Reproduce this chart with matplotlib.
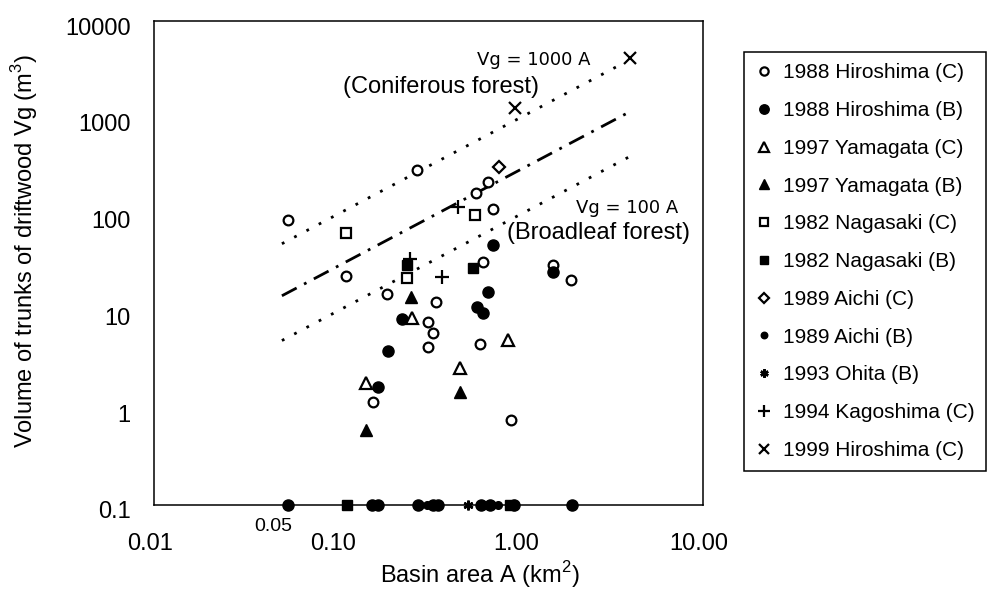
"""Driftwood volume vs basin area scatter (log-log), recreated from scan."""

import matplotlib

matplotlib.use("Agg")
import matplotlib.pyplot as plt
import matplotlib.transforms as mtransforms

plt.rcParams["font.family"] = ["Liberation Sans", "DejaVu Sans"]
plt.rcParams["mathtext.fontset"] = "custom"
plt.rcParams["mathtext.rm"] = "Liberation Sans"

# --- data: basin area A (km2) / driftwood volume Vg (m3), 0.1 = zero row ---
hiro88_c_a = [0.054, 0.112, 0.187, 0.157, 0.274, 0.314, 0.335, 0.314, 0.348,
              0.575, 0.668, 0.628, 0.604, 0.71, 0.89, 1.51, 1.9]
hiro88_c_v = [88, 23, 15.2, 1.16, 290, 7.8, 6.0, 4.3, 12.5,
              167, 217, 32.4, 4.6, 115, 0.755, 30, 21]

hiro88_b_a = [0.226, 0.19, 0.168, 0.711, 0.668, 0.582, 0.628, 1.51,
              0.054, 0.155, 0.167, 0.277, 0.335, 0.356, 0.61, 0.686, 0.93, 1.92]
hiro88_b_v = [8.3, 3.9, 1.66, 48.5, 15.9, 11.1, 9.6, 25.5,
              0.1, 0.1, 0.1, 0.1, 0.1, 0.1, 0.1, 0.1, 0.1, 0.1]

yama97_c_a = [0.258, 0.144, 0.86, 0.47]
yama97_c_v = [8.5, 1.82, 5.1, 2.6]

yama97_b_a = [0.254, 0.144, 0.47]
yama97_b_v = [14.1, 0.6, 1.47]

naga82_c_a = [0.112, 0.241, 0.567]
naga82_c_v = [64.6, 22, 99]

naga82_b_a = [0.241, 0.554, 0.113, 0.88]
naga82_b_v = [30, 28, 0.1, 0.1]

aichi89_c_a = [0.767]
aichi89_c_v = [310]

aichi89_b_a = [0.31, 0.76]
aichi89_b_v = [0.1, 0.1]

ohita93_b_a = [0.52]
ohita93_b_v = [0.1]

kago94_c_a = [0.25, 0.458, 0.375]
kago94_c_v = [35, 120, 22.6]

hiro99_c_a = [0.94, 4.0]
hiro99_c_v = [1262, 4150]

# reference lines Vg = k * A
line_coef = [1000, 290, 100]
line_a_start = [0.05, 0.05, 0.05]
line_a_end = [3.5, 3.9, 4.0]

x_ticks = [0.01, 0.1, 1, 10]
x_ticklabels = ["0.01", "0.10", "1.00", "10.00"]
y_ticks = [0.1, 1, 10, 100, 1000, 10000]
y_ticklabels = ["0.1", "1", "10", "100", "1000", "10000"]

# label, A, V, marker style
SERIES = [
    ("1988 Hiroshima (C)", hiro88_c_a, hiro88_c_v,
     dict(marker="o", ms=7, mfc="white", mec="black", mew=1.6)),
    ("1988 Hiroshima (B)", hiro88_b_a, hiro88_b_v,
     dict(marker="o", ms=8, mfc="black", mec="black", mew=1.0)),
    ("1997 Yamagata (C)", yama97_c_a, yama97_c_v,
     dict(marker="^", ms=8, mfc="white", mec="black", mew=1.6)),
    ("1997 Yamagata (B)", yama97_b_a, yama97_b_v,
     dict(marker="^", ms=8.5, mfc="black", mec="black", mew=1.0)),
    ("1982 Nagasaki (C)", naga82_c_a, naga82_c_v,
     dict(marker="s", ms=6.5, mfc="white", mec="black", mew=1.6)),
    ("1982 Nagasaki (B)", naga82_b_a, naga82_b_v,
     dict(marker="s", ms=7, mfc="black", mec="black", mew=1.0)),
    ("1989 Aichi (C)", aichi89_c_a, aichi89_c_v,
     dict(marker="D", ms=6, mfc="white", mec="black", mew=1.6)),
    ("1989 Aichi (B)", aichi89_b_a, aichi89_b_v,
     dict(marker="o", ms=5.5, mfc="black", mec="black", mew=1.0)),
    ("1993 Ohita (B)", ohita93_b_a, ohita93_b_v,
     dict(marker=(6, 2, 0), ms=7, mfc="black", mec="black", mew=1.8)),
    ("1994 Kagoshima (C)", kago94_c_a, kago94_c_v,
     dict(marker="+", ms=10, mfc="black", mec="black", mew=1.6)),
    ("1999 Hiroshima (C)", hiro99_c_a, hiro99_c_v,
     dict(marker="x", ms=9, mfc="black", mec="black", mew=1.6)),
]

fig = plt.figure(figsize=(9.88, 5.90), dpi=100)
ax = fig.add_axes([154 / 988, 1 - 505 / 590, 549 / 988, 484 / 590])

# reference lines: dotted (1000A, 100A) and dash-dot (middle)
line_styles = [(0, (1, 4)), (0, (6, 3, 1, 3)), (0, (1, 4))]
for k, a0, a1, ls in zip(line_coef, line_a_start, line_a_end, line_styles):
    ax.plot([a0, a1], [k * a0, k * a1], color="black", lw=2.0,
            linestyle=ls, zorder=2)

handles = []
for label, xs, ys, st in SERIES:
    h, = ax.plot(xs, ys, linestyle="None", label=label, zorder=3,
                 clip_on=False, **st)
    handles.append(h)

ax.set_xscale("log")
ax.set_yscale("log")
ax.set_xlim(0.01, 10)
ax.set_ylim(0.1, 10000)
ax.set_xticks(x_ticks)
ax.set_xticklabels(x_ticklabels)
ax.set_yticks(y_ticks)
ax.set_yticklabels(y_ticklabels)
ax.minorticks_off()
ax.tick_params(length=0, labelsize=17)
ax.tick_params(axis="x", pad=20)
ax.tick_params(axis="y", pad=17)
for sp in ax.spines.values():
    sp.set_linewidth(1.1)

# scanned tick labels sit a little off the tick positions
dy = mtransforms.ScaledTranslation(0, -0.05, fig.dpi_scale_trans)
for lab in ax.get_yticklabels():
    lab.set_transform(lab.get_transform() + dy)
dx = mtransforms.ScaledTranslation(-0.04, 0, fig.dpi_scale_trans)
for lab in ax.get_xticklabels():
    lab.set_transform(lab.get_transform() + dx)

# extra "0.05" label under the first point
ax.text(0.045, -0.045, "0.05", transform=ax.get_xaxis_transform(),
        ha="center", va="center", fontsize=14)

ax.set_xlabel("Basin area A (km$^2$)", fontsize=17)
ax.xaxis.set_label_coords((480 - 154) / 549, (505 - 575) / 484)
ax.xaxis.label.set_va("center")
ax.set_ylabel("Volume of trunks of driftwood Vg (m$^3$)", fontsize=17)
ax.yaxis.set_label_coords((25 - 154) / 549, (505 - 251) / 484)
ax.yaxis.label.set_va("center")

# line annotations
ax.text(1.19, 3950, "Vg = 1000 A", family="DejaVu Sans", fontsize=13,
        ha="center", va="center")
ax.text(0.37, 2080, "(Coniferous forest)", fontsize=17,
        ha="center", va="center")
ax.text(3.85, 117, "Vg = 100 A", family="DejaVu Sans", fontsize=13,
        ha="center", va="center")
ax.text(2.67, 64.6, "(Broadleaf forest)", fontsize=17,
        ha="center", va="center")

leg = fig.legend(
    handles=handles,
    loc="upper left",
    bbox_to_anchor=(744 / 988, 1 - 52 / 590),
    fontsize=15,
    frameon=True,
    fancybox=False,
    edgecolor="black",
    framealpha=1.0,
    labelspacing=0.9,
    handlelength=0.8,
    handletextpad=0.5,
    borderpad=0.55,
    borderaxespad=0.0,
    markerscale=0.85,
)
leg.get_frame().set_linewidth(1.1)

fig.savefig("out.png", dpi=100)
